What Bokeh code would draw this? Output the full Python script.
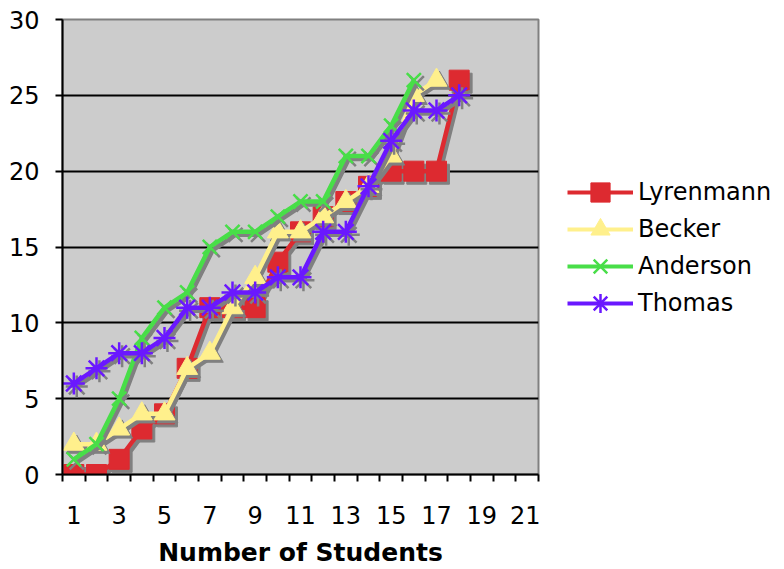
from bokeh.plotting import figure
from bokeh.models import FixedTicker, Legend, LegendItem, ColumnDataSource, Range1d
from bokeh.transform import dodge
from bokeh.layouts import row
from bokeh.embed import file_html
from bokeh.resources import INLINE

# ---- data -------------------------------------------------------------
students = list(range(1, 22))
lyrenmann = [0, 0, 1, 3, 4, 7, 11, 11, 11, 14, 16, 17, 18, 19, 20, 20, 20, 26]
becker = [2, 2, 3, 4, 4, 7, 8, 11, 13, 16, 16, 17, 18, 19, 21, 25, 26]
anderson = [1, 2, 5, 9, 11, 12, 15, 16, 16, 17, 18, 18, 21, 21, 23, 26]
thomas = [6, 7, 8, 8, 9, 11, 11, 12, 12, 13, 13, 16, 16, 19, 22, 24, 24, 25]
series_names = ["Lyrenmann", "Becker", "Anderson", "Thomas"]
x_tick_labels = [1, 3, 5, 7, 9, 11, 13, 15, 17, 19, 21]
y_ticks = [0, 5, 10, 15, 20, 25, 30]

colors = ["#DD2A30", "#FFF08C", "#48DE48", "#6A18FF"]
markers = ["square", "triangle", "x", "asterisk"]
msizes = [20, 21, 20, 22]
SHADOW = "#808080"
FONT = "DejaVu Sans"

H = 569
p = figure(width=540, height=H,
           x_range=Range1d(0.5, len(students) + 0.5), y_range=Range1d(0, 30),
           output_backend="svg", toolbar_location=None,
           min_border_left=62, min_border_right=2,
           min_border_top=19, min_border_bottom=92)
p.background_fill_color = "#CCCCCC"
p.border_fill_color = "white"
p.outline_line_color = "#808080"
p.outline_line_width = 2

# x axis: category style (ticks between categories, labels every other)
p.xaxis.ticker = FixedTicker(ticks=x_tick_labels,
                             minor_ticks=[c - 0.5 for c in students] + [students[-1] + 0.5])
p.xaxis.major_tick_out = 0
p.xaxis.major_tick_in = 0
p.xaxis.minor_tick_out = 7
p.xaxis.minor_tick_in = 0
p.xaxis.minor_tick_line_color = "black"
p.xaxis.minor_tick_line_width = 2
p.xaxis.major_label_standoff = 24
p.xaxis.axis_label = "Number of Students"
p.xaxis.axis_label_text_font = FONT
p.xaxis.axis_label_text_font_style = "bold"
p.xaxis.axis_label_text_font_size = "25px"
p.xaxis.axis_label_text_color = "black"
p.xaxis.axis_label_standoff = 11

p.yaxis.ticker = FixedTicker(ticks=y_ticks)
p.yaxis.major_tick_out = 7
p.yaxis.major_tick_in = 0
p.yaxis.minor_tick_out = 0
p.yaxis.minor_tick_in = 0
p.yaxis.major_label_standoff = 16

for ax in (p.xaxis, p.yaxis):
    ax.axis_line_width = 2
    ax.axis_line_color = "black"
    ax.major_tick_line_width = 2
    ax.major_tick_line_color = "black"
    ax.major_label_text_font = FONT
    ax.major_label_text_font_size = "24px"
    ax.major_label_text_color = "black"

p.xgrid.visible = False
p.ygrid.ticker = FixedTicker(ticks=y_ticks[1:-1])
p.ygrid.grid_line_color = "black"
p.ygrid.grid_line_width = 2

# ---- legend panel (separate figure to the right) ----------------------
# its ranges lie away from the data so only the legend keys show
lg = figure(width=242, height=H, x_range=Range1d(-200, -199), y_range=Range1d(-200, -199),
            output_backend="svg", toolbar_location=None,
            min_border_left=0, min_border_right=0, min_border_top=19, min_border_bottom=92)
lg.axis.visible = False
lg.grid.visible = False
lg.outline_line_color = None
lg.background_fill_color = "white"
lg.border_fill_color = "white"

all_series = [lyrenmann, becker, anderson, thomas]
items = []
for name, vals, col, mk, ms in zip(series_names, all_series, colors, markers, msizes):
    src = ColumnDataSource(dict(x=students[:len(vals)], y=vals))
    sx = dodge("x", 0.13, range=p.x_range)
    sy = dodge("y", -0.2, range=p.y_range)
    # shadow
    p.line(x=sx, y=sy, source=src, line_color=SHADOW, line_width=4.5)
    if mk in ("x", "asterisk"):
        p.scatter(x=sx, y=sy, source=src, marker=mk, size=ms,
                  line_color=SHADOW, line_width=2.5)
    else:
        p.scatter(x=sx, y=sy, source=src, marker=mk, size=ms,
                  fill_color=SHADOW, line_color=SHADOW)
    # series
    p.line(x="x", y="y", source=src, line_color=col, line_width=4.5)
    if mk in ("x", "asterisk"):
        p.scatter(x="x", y="y", source=src, marker=mk, size=ms,
                  line_color=col, line_width=2.5)
    else:
        p.scatter(x="x", y="y", source=src, marker=mk, size=ms,
                  fill_color=col, line_color=col)
    # legend keys (same styling)
    lln = lg.line(x="x", y="y", source=src, line_color=col, line_width=4)
    if mk in ("x", "asterisk"):
        lsc = lg.scatter(x="x", y="y", source=src, marker=mk, size=ms,
                         line_color=col, line_width=2.5)
    else:
        lsc = lg.scatter(x="x", y="y", source=src, marker=mk, size=ms,
                         fill_color=col, line_color=col)
    items.append(LegendItem(label=name, renderers=[lln, lsc]))

# two interleaved legends give the tight 37px row pitch with large keys
legend_style = dict(label_text_font=FONT, label_text_font_size="24px",
                    label_text_color="black",
                    glyph_width=66, glyph_height=48, label_height=27,
                    label_standoff=5, spacing=26, padding=0, margin=0,
                    background_fill_alpha=0, border_line_alpha=0)
legend_a = Legend(items=[items[0], items[2]], location=(27, 184), **legend_style)
legend_b = Legend(items=[items[1], items[3]], location=(27, 147), **legend_style)
lg.add_layout(legend_a)
lg.add_layout(legend_b)

open("out.html", "w").write(file_html(row(p, lg), INLINE))
